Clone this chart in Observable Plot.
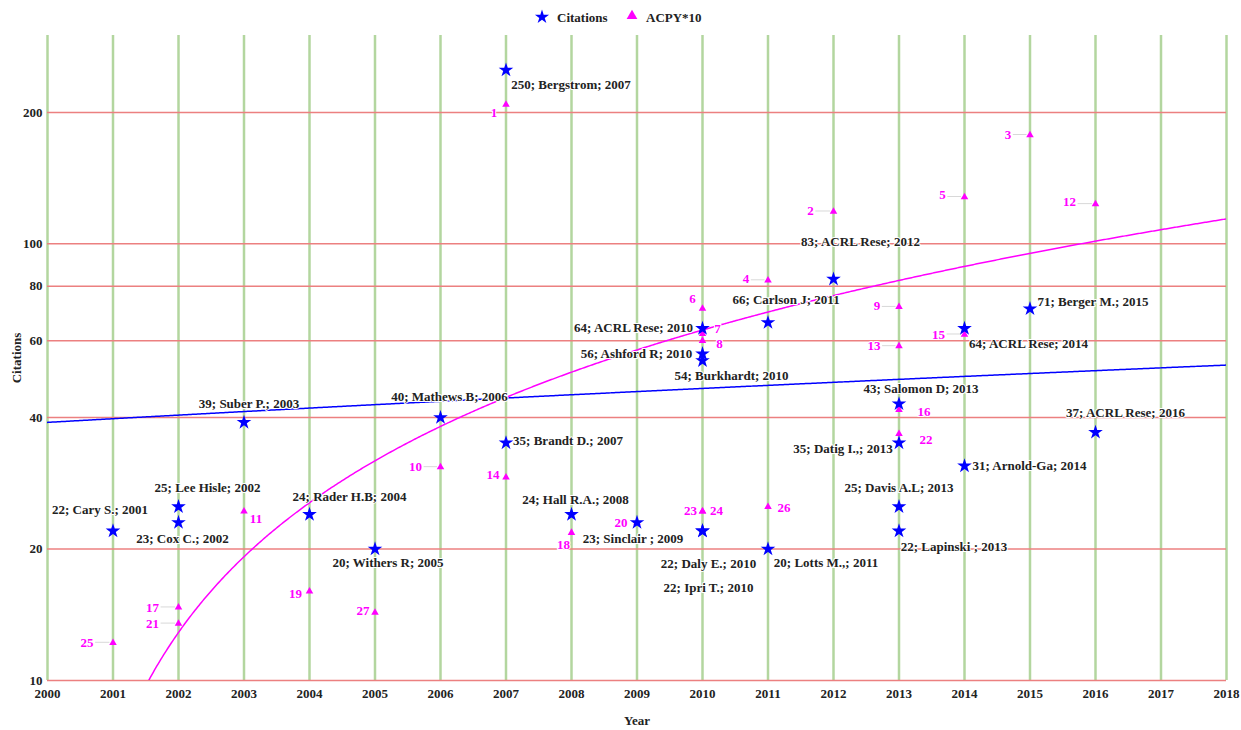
<!DOCTYPE html>
<html>
<head>
<meta charset="utf-8">
<script src="https://cdn.jsdelivr.net/npm/d3@7"></script>
<script src="https://cdn.jsdelivr.net/npm/@observablehq/plot@0.6"></script>
<style>
  body { margin: 0; background: #fff; font-family: "Liberation Serif", "Times New Roman", serif; }
  #legend { display: block; }
</style>
</head>
<body>
<svg id="legend" width="1241" height="30"></svg>
<div id="chart"></div>
<script>
// ---- data ----
const years = [2001, 2002, 2002, 2003, 2004, 2005, 2006, 2007, 2007, 2008, 2009, 2010, 2010, 2010, 2010, 2010, 2011, 2011, 2012, 2013, 2013, 2013, 2013, 2014, 2014, 2015, 2016];
const citations = [22, 25, 23, 39, 24, 20, 40, 250, 35, 24, 23, 64, 56, 54, 22, 22, 66, 20, 83, 43, 35, 25, 22, 64, 31, 71, 37];
const authors = ["Cary S.", "Lee Hisle", "Cox C.", "Suber P.", "Rader H.B", "Withers R", "Mathews B", "Bergstrom", "Brandt D.", "Hall R.A.", "Sinclair ", "ACRL Rese", "Ashford R", "Burkhardt", "Daly E.", "Ipri T.", "Carlson J", "Lotts M.,", "ACRL Rese", "Salomon D", "Datig I.,", "Davis A.L", "Lapinski ", "ACRL Rese", "Arnold-Ga", "Berger M.", "ACRL Rese"];
const acpy10 = [12.2, 14.7, 13.5, 24.4, 16.0, 14.3, 30.8, 208.3, 29.2, 21.8, 23.0, 71.1, 62.2, 60.0, 24.4, 24.4, 82.5, 25.0, 118.6, 71.7, 58.3, 41.7, 36.7, 128.0, 62.0, 177.5, 123.3];
const ranks = [25, 17, 21, 11, 19, 27, 10, 1, 14, 18, 20, 6, 7, 8, 23, 24, 4, 26, 2, 9, 13, 16, 22, 5, 15, 3, 12];
const xTicks = [2000, 2001, 2002, 2003, 2004, 2005, 2006, 2007, 2008, 2009, 2010, 2011, 2012, 2013, 2014, 2015, 2016, 2017, 2018];
const yTicks = [10, 20, 40, 60, 80, 100, 200];

// ---- label layout (pixel offsets of each label from its mark) ----
const citeLabelOffset = [[-13,-21],[29,-19],[4,16],[5,-19],[40,-18],[13,14],[9,-21],[65,15],[62,-2],[4,-15],[-4,16],[-69,-1],[-66,0],[29,15],[6,33],[6,57],[18,-23],[58,14],[27,-37],[22,-15],[-56,6],[0,-19],[55,16],[64,15],[65,0],[63,-7],[30,-20]];
const rankLabelOffset = [[-26,0],[-26,0],[-26,0],[12,7],[-14,2],[-12,-2],[-25,0],[-12,8],[-13,-2],[-8,12],[-16,0],[-10,-10],[15,-5],[17,3],[-12,-1],[14,-1],[-22,-1],[16,1],[-23,-1],[-22,-1],[-25,0],[25,2],[27,6],[-22,-2],[-26,0],[-22,0],[-26,-2]];

const pubs = years.map((year, i) => ({
  year, cit: citations[i], acpy: acpy10[i], rank: ranks[i],
  label: `${citations[i]}; ${authors[i]}; ${year}`
}));

const BLUE = "#0000ff", MAGENTA = "#ff00ff";
const GREEN = "#b3d69f", RED = "#ec8080";

function offsetRender(offsets) {
  return (index, scales, values, dims, ctx, next) => {
    const x = Float64Array.from(values.x, (v, i) => v + offsets[i][0]);
    const y = Float64Array.from(values.y, (v, i) => v + offsets[i][1]);
    return next(index, scales, {...values, x, y}, dims, ctx);
  };
}

// ordinary least-squares trend line (as in the reference), computed from the data arrays
function ols(xs, ys) {
  const mx = d3.mean(xs), my = d3.mean(ys);
  let sxy = 0, sxx = 0;
  xs.forEach((x, i) => { sxy += (x - mx) * (ys[i] - my); sxx += (x - mx) ** 2; });
  const b = sxy / sxx;
  return [my - b * mx, b];
}
let clipId = 0;
function trendMark(xs, ys, color) {
  const [a, b] = ols(xs, ys);
  return (index, {x, y}, values, dims) => {
    const id = "trendclip" + (clipId++);
    const g = d3.create("svg:g");
    g.append("clipPath").attr("id", id).append("rect")
      .attr("x", dims.marginLeft).attr("y", dims.marginTop)
      .attr("width", dims.width - dims.marginLeft - dims.marginRight)
      .attr("height", dims.height - dims.marginTop - dims.marginBottom);
    const [x0, x1] = [xTicks[0], xTicks[xTicks.length - 1]];
    const pts = [];
    for (let v = x0; v <= x1 + 1e-9; v += 0.02) {
      const val = a + b * v;
      if (val > 0.5) pts.push([x(v), y(val)]);
    }
    g.append("path").attr("clip-path", `url(#${id})`)
      .attr("d", d3.line()(pts)).attr("fill", "none")
      .attr("stroke", color).attr("stroke-width", 1.5);
    return g.node();
  };
}

function leaderMark() {
  return (index, {x, y}) => {
    const g = d3.create("svg:g").attr("stroke", "#d8d8d8").attr("stroke-width", 1);
    pubs.forEach((d, i) => {
      const [dx] = rankLabelOffset[i];
      if (dx > -20) return;
      const px = x(d.year), py = y(d.acpy);
      const half = String(d.rank).length * 3.3;
      g.append("line").attr("x1", px + dx + half + 2).attr("x2", px - 3)
        .attr("y1", py).attr("y2", py);
    });
    return g.node();
  };
}

const chart = Plot.plot({
  width: 1241,
  height: 700,
  marginLeft: 47,
  marginRight: 15,
  marginTop: 5,
  marginBottom: 50,
  style: {fontFamily: "'Liberation Serif', 'Times New Roman', serif", fontSize: "13px", fontWeight: "bold", color: "#222", background: "white"},
  x: {domain: [2000, 2018], ticks: xTicks, tickFormat: d => String(d), tickSize: 0, tickPadding: 8,
      label: "Year", labelAnchor: "center", labelArrow: "none", labelOffset: 44},
  y: {type: "log", domain: [10, 300], ticks: yTicks, tickFormat: d => String(d), tickSize: 0, tickPadding: 5,
      label: "Citations", labelAnchor: "center", labelArrow: "none", labelOffset: 36},
  marks: [
    Plot.ruleX(xTicks, {stroke: GREEN, strokeWidth: 2.5}),
    Plot.ruleY(yTicks, {stroke: RED, strokeWidth: 1.5}),
    trendMark(years, citations, BLUE),
    trendMark(years, acpy10, MAGENTA),
    leaderMark(),
    Plot.dot(pubs, {x: "year", y: "acpy", symbol: "triangle", r: 2.8, fill: MAGENTA}),
    Plot.dot(pubs, {x: "year", y: "cit", symbol: "star", r: 4.6, fill: BLUE}),
    Plot.text(pubs, {x: "year", y: "acpy", text: d => String(d.rank), fill: MAGENTA,
      fontSize: 13, fontWeight: "bold", stroke: "white", strokeWidth: 2, render: offsetRender(rankLabelOffset)}),
    Plot.text(pubs, {x: "year", y: "cit", text: "label", fill: "#222",
      fontSize: 13, fontWeight: "bold", stroke: "white", strokeWidth: 2, render: offsetRender(citeLabelOffset)})
  ]
});
document.getElementById("chart").appendChild(chart);

// ---- legend ----
const lg = d3.select("#legend");
lg.append("path").attr("transform", "translate(542,17)")
  .attr("d", d3.symbol(d3.symbolStar, 62)()).attr("fill", BLUE);
lg.append("text").attr("x", 557).attr("y", 17).attr("dy", "0.35em")
  .attr("font-size", 13).attr("font-weight", "bold").attr("fill", "#222")
  .attr("font-family", "'Liberation Serif', serif").text("Citations");
lg.append("path").attr("transform", "translate(632,16)")
  .attr("d", d3.symbol(d3.symbolTriangle, 50)()).attr("fill", MAGENTA);
lg.append("text").attr("x", 646).attr("y", 17).attr("dy", "0.35em")
  .attr("font-size", 13).attr("font-weight", "bold").attr("fill", "#222")
  .attr("font-family", "'Liberation Serif', serif").text("ACPY*10");
</script>
</body>
</html>
